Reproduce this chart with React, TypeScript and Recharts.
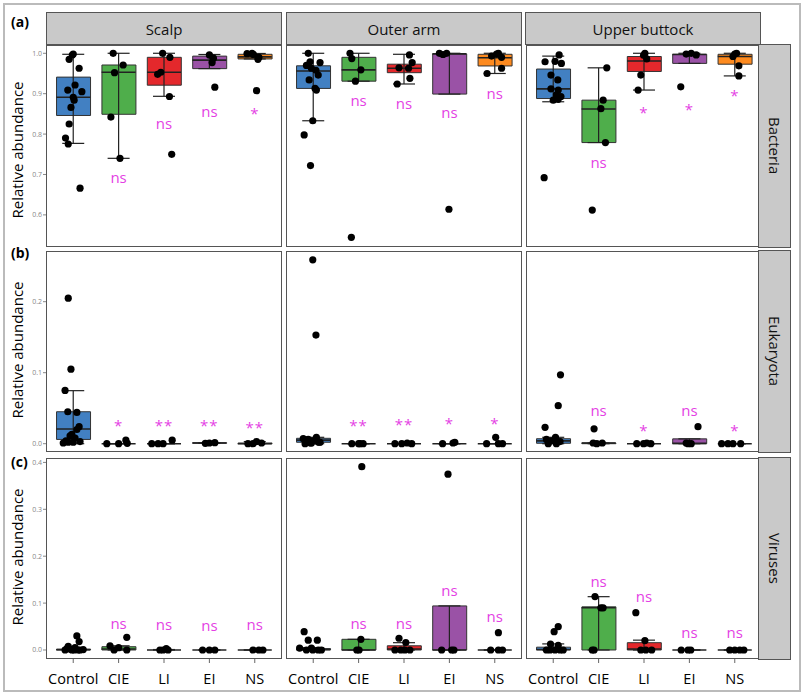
import React from "react";
import { Bar, Cell, ComposedChart, ErrorBar, Scatter, XAxis, YAxis } from "recharts";

const groups = ["Control", "CIE", "LI", "EI", "NS"];
const sites = ["Scalp", "Outer arm", "Upper buttock"];
const kingdoms = ["Bacteria", "Eukaryota", "Viruses"];
const panelTags = ["(a)", "(b)", "(c)"];
const groupColors = ["#4280c2", "#4fae4b", "#e4282c", "#9a52a6", "#fd8a1f"];
const sigColor = "#e43fe4";

// box stats per group: [lower whisker, q1, median, q3, upper whisker]
const scalpBactBox = [
  [0.777, 0.846, 0.891, 0.941, 0.9975],
  [0.74, 0.849, 0.953, 0.971, 1.0],
  [0.8935, 0.921, 0.953, 0.99, 1.0],
  [0.962, 0.962, 0.983, 0.993, 0.997],
  [0.986, 0.986, 0.991, 0.9975, 0.9995],
];
const armBactBox = [
  [0.833, 0.913, 0.956, 0.969, 1.0],
  [0.931, 0.931, 0.959, 0.99, 1.0],
  [0.924, 0.952, 0.963, 0.973, 0.9975],
  [0.899, 0.899, 0.9985, 0.9985, 1.0],
  [0.95, 0.9686, 0.989, 0.9975, 1.0],
];
const buttBactBox = [
  [0.88, 0.888, 0.912, 0.961, 0.993],
  [0.779, 0.779, 0.862, 0.884, 0.964],
  [0.909, 0.955, 0.981, 0.992, 1.0],
  [0.975, 0.975, 0.997, 0.9975, 1.0],
  [0.944, 0.973, 0.992, 0.9975, 1.0],
];
const scalpEukBox = [
  [0.0, 0.006, 0.0207, 0.045, 0.0747],
  [0, 0, 0, 0, 0],
  [0, 0, 0, 0, 0],
  [0.0005, 0.0007, 0.001, 0.0013, 0.0015],
  [0, 0, 0, 0.001, 0.003],
];
const armEukBox = [
  [0, 0.002, 0.005, 0.0076, 0.009],
  [0, 0, 0, 0, 0],
  [0, 0, 0, 0, 0],
  [0, 0, 0, 0, 0],
  [0, 0, 0, 0, 0],
];
const buttEukBox = [
  [0, 0.0006, 0.004, 0.007, 0.009],
  [0, 0, 0.001, 0.001, 0.001],
  [0, 0, 0, 0, 0],
  [0, 0, 0.0005, 0.0068, 0.0068],
  [0, 0, 0, 0, 0],
];
const scalpVirBox = [
  [0, 0, 0.0005, 0.002, 0.004],
  [0, 0, 0.002, 0.007, 0.009],
  [0, 0, 0, 0, 0.001],
  [0, 0, 0, 0, 0],
  [0, 0, 0, 0, 0],
];
const armVirBox = [
  [0, 0, 0.001, 0.003, 0.005],
  [0, 0, 0, 0.0228, 0.0228],
  [0, 0, 0.002, 0.009, 0.0156],
  [0, 0, 0, 0.094, 0.094],
  [0, 0, 0, 0, 0],
];
const buttVirBox = [
  [0, 0, 0.001, 0.006, 0.013],
  [0, 0, 0.09, 0.092, 0.1137],
  [0, 0, 0.002, 0.0156, 0.021],
  [0, 0, 0, 0, 0],
  [0, 0, 0, 0, 0],
];

// individual samples per group, and their jitter (in group units)
const scalpBactVals = [
  [0.9958, 0.985, 0.963, 0.9215, 0.909, 0.905, 0.891, 0.884, 0.866, 0.825, 0.79, 0.7755, 0.666, 0.998],
  [1.0, 0.952, 0.971, 0.842, 0.74],
  [1.0, 0.99, 0.953, 0.948, 0.893, 0.75],
  [0.996, 0.988, 0.977, 0.916],
  [0.999, 1.0, 0.997, 0.99, 0.985, 0.9075],
];
const scalpBactJit = [
  [-0.02, -0.09, 0.13, 0.04, -0.12, 0.19, 0, 0.02, -0.05, -0.09, -0.17, -0.11, 0.15, 0.0],
  [-0.12, -0.09, 0.1, -0.17, 0.03],
  [-0.03, 0.13, -0.07, -0.14, 0.12, 0.17],
  [0, 0.09, 0.06, 0.12],
  [-0.17, -0.06, -0.03, 0.09, 0.07, 0.04],
];
const armBactVals = [
  [1.0, 0.979, 0.977, 0.97, 0.963, 0.958, 0.946, 0.934, 0.913, 0.909, 0.833, 0.798, 0.722],
  [1.0, 0.987, 0.959, 0.931, 0.5445],
  [0.996, 0.977, 0.964, 0.963, 0.938, 0.924],
  [1.0, 1.0, 0.997, 0.614],
  [1.0, 0.993, 0.99, 0.963, 0.95, 0.998],
];
const armBactJit = [
  [-0.11, -0.07, 0.15, -0.15, -0.04, 0.06, 0.11, -0.09, 0.04, 0.07, -0.01, -0.2, -0.06],
  [-0.19, -0.15, 0.05, -0.07, -0.16],
  [0.12, 0.18, -0.11, 0.1, 0.13, -0.15],
  [-0.22, -0.06, -0.14, -0.01],
  [0.08, -0.07, 0.15, 0.15, -0.17, 0.04],
];
const buttBactVals = [
  [0.996, 0.979, 0.98, 0.975, 0.946, 0.934, 0.912, 0.909, 0.897, 0.893, 0.884, 0.886, 0.692],
  [0.964, 0.884, 0.863, 0.779, 0.612],
  [1.0, 0.995, 0.986, 0.946, 0.909],
  [0.998, 0.996, 0.917, 1.0],
  [1.0, 0.992, 0.969, 0.944, 0.998],
];
const buttBactJit = [
  [0.13, -0.18, 0.04, 0.18, -0.05, 0.1, -0.05, 0.11, 0.07, 0.17, 0, 0.11, -0.2],
  [0.18, 0.1, 0.05, 0.15, -0.14],
  [0.02, -0.01, 0.06, -0.07, -0.13],
  [-0.07, 0.15, -0.19, 0.04],
  [0.04, -0.04, 0.09, 0.09, 0],
];
const scalpEukVals = [
  [0.205, 0.105, 0.075, 0.045, 0.044, 0.024, 0.02, 0.013, 0.011, 0.008, 0.004, 0.002, 0.003, 0.002, 0.001],
  [0, 0, 0.005, 0.0005],
  [0, 0, 0, 0.005],
  [0.0005, 0.001, 0.0015],
  [0, 0.003, 0.001, 0],
];
const scalpEukJit = [
  [-0.11, -0.05, -0.18, -0.12, 0.08, 0.13, 0.08, -0.03, -0.07, 0.04, -0.16, -0.11, 0.15, 0, -0.22],
  [-0.26, 0, 0.16, 0.19],
  [-0.27, -0.13, -0.02, 0.18],
  [-0.09, 0, 0.12],
  [-0.15, 0.04, 0.15, -0.04],
];
const armEukVals = [
  [0.259, 0.153, 0.009, 0.007, 0.006, 0.004, 0.002, 0.001, 0, 0.003, 0.005, 0.002, 0.001],
  [0, 0, 0, 0],
  [0, 0, 0.001, 0],
  [0, 0.001, 0.002],
  [0, 0.009, 0, 0],
];
const armEukJit = [
  [-0.01, 0.06, 0.07, -0.22, -0.11, 0, 0.15, -0.04, -0.18, 0.1, -0.15, 0.12, -0.06],
  [-0.15, 0, 0.1, 0.03],
  [-0.2, -0.05, 0.07, 0.17],
  [-0.15, 0.08, 0.12],
  [-0.18, 0.02, 0.08, 0.17],
];
const buttEukVals = [
  [0.097, 0.0536, 0.023, 0.009, 0.006, 0.004, 0, 0, 0.005, 0.003],
  [0.021, 0.001, 0.001, 0],
  [0, 0.001, 0, 0],
  [0, 0, 0.024, 0.001],
  [0, 0, 0, 0],
];
const buttEukJit = [
  [0.16, 0.11, -0.18, 0.05, -0.15, -0.04, 0.07, -0.11, 0.04, 0.15],
  [-0.1, -0.12, 0.08, -0.04],
  [-0.16, 0.06, 0.15, -0.01],
  [-0.03, 0.04, 0.19, -0.07],
  [-0.29, -0.15, -0.04, 0.13],
];
const scalpVirVals = [
  [0.03, 0.018, 0.008, 0.005, 0.003, 0, 0, 0, 0.001, 0.002, 0, 0],
  [0.009, 0.027, 0, 0, 0.005],
  [0, 0.003, 0, 0],
  [0, 0, 0],
  [0, 0, 0],
];
const scalpVirJit = [
  [0.08, 0.13, -0.11, 0.04, -0.14, -0.03, 0.15, -0.18, 0.22, -0.07, 0.11, 0.02],
  [-0.19, 0.18, -0.1, 0.18, 0],
  [-0.09, 0.05, 0.09, -0.02],
  [-0.15, 0, 0.12],
  [-0.04, 0.09, 0.18],
];
const armVirVals = [
  [0.039, 0.021, 0.021, 0.004, 0, 0, 0, 0, 0.004],
  [0.0228, 0, 0, 0.391],
  [0.025, 0.016, 0, 0, 0, 0],
  [0, 0, 0, 0.375],
  [0, 0.037, 0, 0],
];
const armVirJit = [
  [-0.2, -0.11, 0.09, -0.3, -0.15, -0.01, 0.11, 0.18, -0.04],
  [0.05, -0.04, 0.01, 0.07],
  [-0.11, 0.04, -0.2, -0.07, 0.02, 0.13],
  [-0.17, 0.05, 0.1, -0.03],
  [-0.09, 0.08, 0.08, 0.17],
];
const buttVirVals = [
  [0.0497, 0.039, 0.0128, 0.01, 0, 0, 0, 0, 0],
  [0.114, 0.09, 0.09, 0, 0],
  [0.0795, 0.02, 0, 0, 0],
  [0, 0, 0],
  [0, 0, 0, 0],
];
const buttVirJit = [
  [0.11, 0.02, -0.06, 0.11, -0.15, -0.07, 0.04, 0.15, 0.22],
  [-0.08, 0.1, 0.05, -0.1, -0.14],
  [-0.18, 0.02, -0.07, 0.04, 0.17],
  [-0.18, -0.03, 0.03],
  [-0.11, 0, 0.11, 0.2],
];

// significance vs Control, and the height where each label sits
const scalpBactSig = ["", "ns", "ns", "ns", "*"];
const scalpBactSigY = [0, 0.695, 0.827, 0.856, 0.865];
const armBactSig = ["", "ns", "ns", "ns", "ns"];
const armBactSigY = [0, 0.884, 0.878, 0.854, 0.902];
const buttBactSig = ["", "ns", "*", "*", "*"];
const buttBactSigY = [0, 0.732, 0.868, 0.874, 0.909];
const scalpEukSig = ["", "*", "**", "**", "**"];
const scalpEukSigY = [0, 0.033, 0.033, 0.033, 0.031];
const armEukSig = ["", "**", "**", "*", "*"];
const armEukSigY = [0, 0.034, 0.035, 0.036, 0.036];
const buttEukSig = ["", "ns", "*", "ns", "*"];
const buttEukSigY = [0, 0.048, 0.027, 0.048, 0.027];
const scalpVirSig = ["", "ns", "ns", "ns", "ns"];
const scalpVirSigY = [0, 0.058, 0.055, 0.053, 0.055];
const armVirSig = ["", "ns", "ns", "ns", "ns"];
const armVirSigY = [0, 0.058, 0.058, 0.128, 0.0725];
const buttVirSig = ["", "ns", "ns", "ns", "ns"];
const buttVirSigY = [0, 0.147, 0.115, 0.038, 0.038];

const yDomains = [
  [0.5205, 1.0205],
  [-0.0117, 0.2714],
  [-0.0192, 0.4094],
];
const yTicks = [
  [0.6, 0.7, 0.8, 0.9, 1.0],
  [0, 0.1, 0.2],
  [0, 0.1, 0.2, 0.3, 0.4],
];

const boxes = [
  [scalpBactBox, armBactBox, buttBactBox],
  [scalpEukBox, armEukBox, buttEukBox],
  [scalpVirBox, armVirBox, buttVirBox],
];
const values = [
  [scalpBactVals, armBactVals, buttBactVals],
  [scalpEukVals, armEukVals, buttEukVals],
  [scalpVirVals, armVirVals, buttVirVals],
];
const jitters = [
  [scalpBactJit, armBactJit, buttBactJit],
  [scalpEukJit, armEukJit, buttEukJit],
  [scalpVirJit, armVirJit, buttVirJit],
];
const sigs = [
  [scalpBactSig, armBactSig, buttBactSig],
  [scalpEukSig, armEukSig, buttEukSig],
  [scalpVirSig, armVirSig, buttVirSig],
];
const sigYs = [
  [scalpBactSigY, armBactSigY, buttBactSigY],
  [scalpEukSigY, armEukSigY, buttEukSigY],
  [scalpVirSigY, armVirSigY, buttVirSigY],
];

// layout
const colLeft = [46, 286, 526];
const panelW = 236;
const rowTop = [45, 251, 458];
const rowH = [202, 201, 201];
const BOX_W = 34;
// ggplot leaves 0.6 of a group step on each side; the band axis gets matching padding
const catPad = (panelW - (panelW / 5.2) * 5) / 2;

const MedianLine = (p: any) => (
  <line x1={p.cx - BOX_W / 2} x2={p.cx + BOX_W / 2} y1={p.cy} y2={p.cy} stroke="#222" strokeWidth={1.6} />
);
const Dot = (p: any) => <circle cx={p.cx} cy={p.cy} r={3.6} fill="#000" />;
const SigLabel = (p: any) => {
  const t = p.payload.t;
  const star = t.indexOf("*") >= 0;
  return (
    <text
      x={p.cx}
      y={p.cy + (star ? 5 : 0)}
      textAnchor="middle"
      dominantBaseline="central"
      fill={sigColor}
      fontSize={15}
      letterSpacing={star ? 1 : 0}
    >
      {t}
    </text>
  );
};

function Facet({ r, c }: { r: number; c: number }) {
  const boxData = boxes[r][c].map((b, i) => ({
    g: groups[i],
    x: i + 1,
    range: [b[1], b[3]],
    med: b[2],
    err: [b[2] - b[0], b[4] - b[2]],
  }));
  const pts = values[r][c].flatMap((arr, i) =>
    arr.map((v, k) => ({ x: i + 1 + jitters[r][c][i][k], y: v }))
  );
  const sig = sigs[r][c]
    .map((t, i) => ({ x: i + 1, y: sigYs[r][c][i], t }))
    .filter((d) => d.t);
  const yW = c === 0 ? 14 : 0;
  const xH = r === 2 ? 36 : 0;
  return (
    <div style={{ position: "absolute", left: colLeft[c] - yW, top: rowTop[r] }}>
      <ComposedChart
        width={panelW + yW}
        height={rowH[r] + xH}
        data={boxData}
        margin={{ top: 0, right: 0, bottom: 0, left: 0 }}
      >
        <XAxis
          xAxisId="cat"
          type="category"
          dataKey="g"
          hide
          padding={{ left: catPad, right: catPad }}
        />
        <XAxis
          type="number"
          dataKey="x"
          domain={[0.4, 5.6]}
          allowDataOverflow
          hide={r !== 2}
          height={xH}
          ticks={[1, 2, 3, 4, 5]}
          interval={0}
          tickFormatter={(v) => groups[v - 1]}
          axisLine={false}
          tickSize={4}
          tickMargin={11}
          tickLine={{ stroke: "#666" }}
          tick={{ fontSize: 14.5, fill: "#000" }}
        />
        <YAxis
          type="number"
          domain={yDomains[r]}
          allowDataOverflow
          ticks={yTicks[r]}
          hide={c !== 0}
          width={yW}
          axisLine={false}
          tickSize={3}
          tickMargin={1}
          tickLine={{ stroke: "#888" }}
          tick={{ fontSize: 7, fill: "#888" }}
          tickFormatter={(v) => v.toFixed(1)}
        />
        <Bar
          xAxisId="cat"
          dataKey="range"
          barSize={BOX_W}
          stroke="#333"
          strokeWidth={1}
          isAnimationActive={false}
        >
          {boxData.map((d, i) => (
            <Cell key={i} fill={groupColors[i]} />
          ))}
        </Bar>
        <Scatter data={boxData} dataKey="med" shape={MedianLine} isAnimationActive={false}>
          <ErrorBar dataKey="err" direction="y" width={11} stroke="#222" strokeWidth={1.2} />
        </Scatter>
        <Scatter data={pts} dataKey="y" shape={Dot} isAnimationActive={false} />
        <Scatter data={sig} dataKey="y" shape={SigLabel} isAnimationActive={false} />
      </ComposedChart>
      <div
        style={{
          position: "absolute",
          left: yW,
          top: 0,
          width: panelW,
          height: rowH[r],
          border: "1px solid #555",
          boxSizing: "border-box",
          pointerEvents: "none",
        }}
      />
    </div>
  );
}

const stripStyle: React.CSSProperties = {
  position: "absolute",
  background: "#c9c9c9",
  border: "1px solid #555",
  boxSizing: "border-box",
  display: "flex",
  alignItems: "center",
  justifyContent: "center",
  fontSize: 15,
  color: "#111",
};

export default function App() {
  return (
    <div
      style={{
        position: "absolute",
        left: 0,
        top: 0,
        width: 804,
        height: 695,
        background: "#fff",
        fontFamily: "'Open Sans', 'Noto Sans', sans-serif",
      }}
    >
      <div
        style={{
          position: "absolute",
          left: 3,
          top: 3,
          width: 798,
          height: 689,
          border: "2px solid #bbb",
          boxSizing: "border-box",
        }}
      />
      {sites.map((s, c) => (
        <div
          key={s}
          style={{ ...stripStyle, left: colLeft[c] - (c === 2 ? 1 : 0), top: 12, width: panelW, height: 33 }}
        >
          {s}
        </div>
      ))}
      {[0, 1, 2].map((r) =>
        [0, 1, 2].map((c) => <Facet key={`${r}-${c}`} r={r} c={c} />)
      )}
      {kingdoms.map((k, r) => (
        <div
          key={k}
          style={{
            ...stripStyle,
            left: 758,
            top: rowTop[r] - 1,
            width: 33,
            height: rowH[r] + 2,
            writingMode: "vertical-rl",
          }}
        >
          {k}
        </div>
      ))}
      {panelTags.map((t, r) => (
        <div
          key={t}
          style={{
            position: "absolute",
            left: 11,
            top: [13, 244, 453][r],
            fontSize: 14,
            fontWeight: 700,
            lineHeight: "18px",
          }}
        >
          {t}
        </div>
      ))}
      {[150, 350, 557].map((cy, r) => (
        <div
          key={r}
          style={{
            position: "absolute",
            left: 17,
            top: cy,
            transform: "translate(-50%, -50%) rotate(-90deg)",
            whiteSpace: "nowrap",
            fontSize: 15,
            lineHeight: "18px",
          }}
        >
          Relative abundance
        </div>
      ))}
    </div>
  );
}
